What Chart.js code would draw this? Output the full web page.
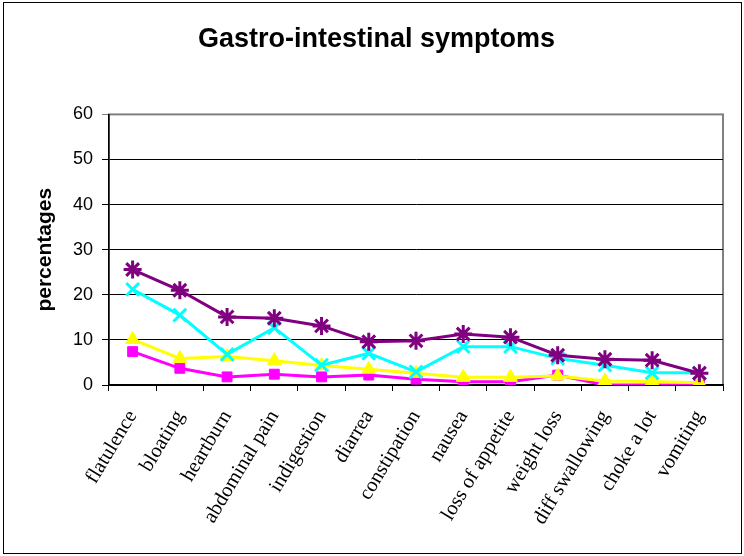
<!DOCTYPE html>
<html>
<head>
<meta charset="utf-8">
<script src="https://cdn.jsdelivr.net/npm/chart.js@4/dist/chart.umd.min.js"></script>
<style>
  html, body { margin: 0; padding: 0; background: #fff; }
  #wrap { width: 744px; height: 556px; }
</style>
</head>
<body>
<div id="wrap"><canvas id="chart"></canvas></div>
<script>
const symptoms = ['flatulence', 'bloating', 'heartburn', 'abdominal pain', 'indigestion', 'diarrea',
  'constipation', 'nausea', 'loss of appetite', 'weight loss', 'diff swallowing', 'choke a lot', 'vomiting'];
const seriesStar = [25.6, 21, 15.1, 14.8, 13.1, 9.6, 9.8, 11.3, 10.6, 6.6, 5.7, 5.5, 2.6];
const seriesCross = [21.2, 15.5, 6.8, 12.7, 4.4, 7, 2.9, 8.5, 8.5, 5.9, 4.4, 2.7, 2.7];
const seriesTriangle = [10.1, 5.9, 6.3, 5.4, 4.3, 3.5, 2.6, 1.7, 1.7, 2, 0.9, 0.8, 0.5];
const seriesSquare = [7.4, 3.7, 1.8, 2.4, 1.8, 2.2, 1.3, 0.7, 0.7, 2.2, 0, 0, 0];
const yTicks = [0, 10, 20, 30, 40, 50, 60];

function line(data, color, style, radius) {
  return {
    data: data,
    borderColor: color,
    backgroundColor: color,
    borderWidth: 3,
    pointStyle: style,
    pointRadius: radius,
    pointBorderWidth: style === 'star' || style === 'crossRot' ? 3 : 1,
    pointBorderColor: color,
    pointBackgroundColor: color,
    tension: 0
  };
}

// outer frame + grey plot-area box, drawn under the axes
const frame = {
  id: 'frame',
  beforeDraw(chart) {
    const c = chart.ctx, a = chart.chartArea;
    c.save();
    c.strokeStyle = '#000';
    c.lineWidth = 1;
    c.strokeRect(3.5, 2.5, 738, 551);
    c.strokeStyle = '#808080';
    c.lineWidth = 2;
    c.strokeRect(a.left, a.top, a.right - a.left, a.bottom - a.top);
    c.restore();
  }
};

new Chart(document.getElementById('chart'), {
  type: 'line',
  data: {
    labels: symptoms,
    datasets: [
      line(seriesStar, '#800080', 'star', 9),
      line(seriesCross, '#00FFFF', 'crossRot', 9),
      line(seriesTriangle, '#FFFF00', 'triangle', 8),
      line(seriesSquare, '#FF00FF', 'rect', 7)
    ]
  },
  plugins: [frame],
  options: {
    responsive: true,
    maintainAspectRatio: false,
    animation: false,
    layout: { padding: { left: 30, right: 21, top: 3, bottom: 10 } },
    plugins: {
      legend: { display: false },
      tooltip: { enabled: false },
      title: {
        display: true,
        text: 'Gastro-intestinal symptoms',
        color: '#000',
        font: { family: 'Liberation Sans, Arial', size: 27, weight: 'bold' },
        padding: { top: 20, bottom: 59 }
      }
    },
    scales: {
      x: {
        offset: true,
        afterFit: (s) => { s.height = 161; },
        grid: { offset: true, drawOnChartArea: false, drawTicks: true, tickLength: 6, color: '#000' },
        border: { color: '#000', width: 1.5 },
        ticks: {
          autoSkip: false,
          minRotation: 59,
          maxRotation: 59,
          padding: 15,
          color: '#000',
          font: { family: 'Liberation Serif, Times New Roman', size: 20.5 }
        }
      },
      y: {
        min: 0,
        max: 60,
        afterFit: (s) => { s.width = 79; },
        afterBuildTicks: (s) => { s.ticks = yTicks.map(v => ({ value: v })); },
        grid: {
          color: (ctx) => ctx.tick && ctx.tick.value === 60 ? '#808080' : '#000',
          tickLength: 7,
          lineWidth: 1
        },
        border: { color: '#000', width: 1.5 },
        ticks: {
          padding: 9,
          color: '#000',
          font: { family: 'Liberation Sans, Arial', size: 18 }
        },
        title: {
          display: true,
          text: 'percentages',
          color: '#000',
          font: { family: 'Liberation Sans, Arial', size: 21, weight: 'bold' },
          padding: { top: 3, bottom: 4 }
        }
      }
    }
  }
});
</script>
</body>
</html>
